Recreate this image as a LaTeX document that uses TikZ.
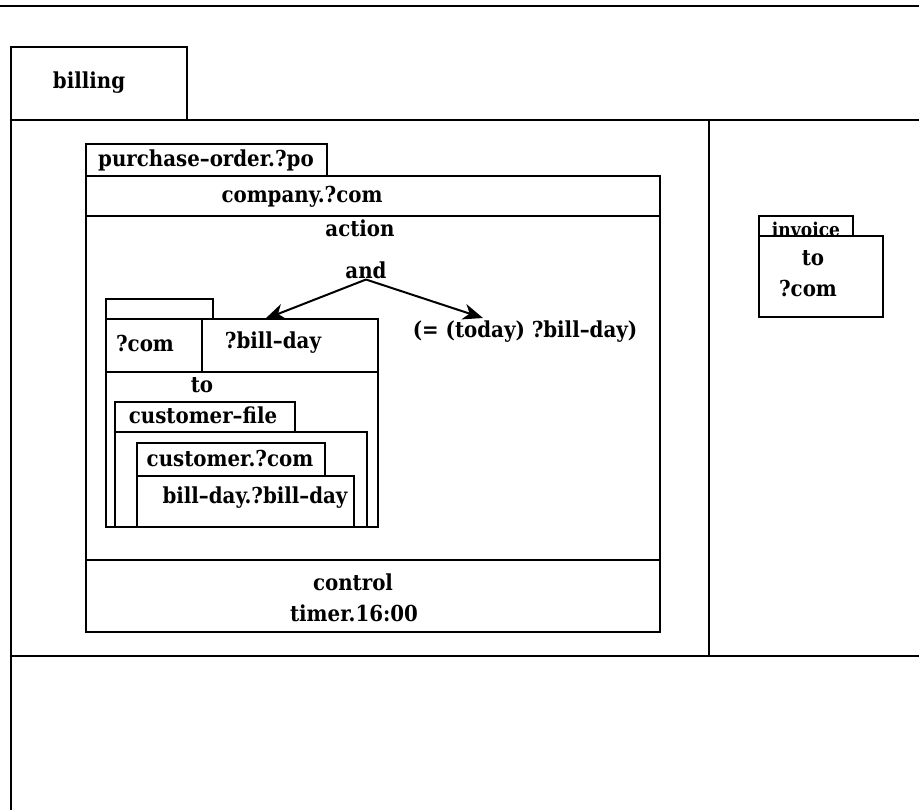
\documentclass[tikz,border=0pt]{standalone}
\usepackage{fontspec}
\setmainfont{DejaVu Serif}
\newfontfamily\heavy{DejaVu Serif Condensed}[Ligatures=TeX]
\usetikzlibrary{arrows.meta}

\begin{document}
\begin{tikzpicture}[x=0.5pt, y=-0.5pt, line width=1pt,
    txt/.style={inner sep=0pt, font=\heavy\bfseries\fontsize{11}{13}\selectfont},
    small/.style={inner sep=0pt, font=\heavy\bfseries\fontsize{9.5}{11}\selectfont},
    link/.style={-{Stealth[length=10pt, width=8pt, inset=3pt]}, line width=1pt}]
    \useasboundingbox (0,0) rectangle (919,810);

    % outer frame
    \draw (0,6) -- (919,6);
    \draw (919,120) -- (11,120);
    \draw (11,47) rectangle (187,120);
    \draw (11,120) -- (11,810);
    \draw (709,120) -- (709,656);
    \draw (11,656) -- (919,656);
    \node[txt] (billing) at (89,83) {billing};

    % purchase order
    \draw (86,144) rectangle (327,176);
    \draw (86,176) rectangle (660,632);
    \draw (86,216) -- (660,216);
    \draw (86,560) -- (660,560);
    \node[txt] (po) at (206,160) {purchase--order.?po};
    \node[txt] (company) at (302,197) {company.?com};
    \node[txt] (action) at (360,228) {action};
    \node[txt] (and) at (366,270) {and};
    \node[txt] (eq) at (525,332) {(= (today) ?bill--day)};
    \node[txt] (control) at (353,582) {control};
    \node[txt] (timer) at (354,613) {timer.16:00};

    % record
    \draw (106,299) rectangle (213,319);
    \draw (106,319) rectangle (378,527);
    \draw (202,319) -- (202,372);
    \draw (106,372) -- (378,372);
    \node[txt] (com) at (145,343) {?com};
    \node[txt] (billday) at (273,343) {?bill--day};
    \node[txt] (to) at (202,385) {to};

    % customer file
    \draw (115,402) rectangle (295,432);
    \draw (115,527) -- (115,432) -- (367,432) -- (367,527);
    \node[txt] (cfile) at (203,415) {customer--file};
    \draw (137,443) rectangle (325,476);
    \draw (137,527) -- (137,476) -- (354,476) -- (354,527);
    \node[txt] (cust) at (230,458) {customer.?com};
    \node[txt] (bday) at (255,498) {bill--day.?bill--day};

    \coordinate (rectop) at (265,319);
    \coordinate (eqtop) at (483,318);
    \draw[link] (and.south) -- (rectop);
    \draw[link] (and.south) -- (eqtop);

    % invoice
    \draw (759,216) rectangle (853,236);
    \draw (759,236) rectangle (883,317);
    \node[small] (invoice) at (806,229) {invoice};
    \node[txt] (invto) at (813,258) {to};
    \node[txt] (invcom) at (808,288) {?com};
\end{tikzpicture}
\end{document}
